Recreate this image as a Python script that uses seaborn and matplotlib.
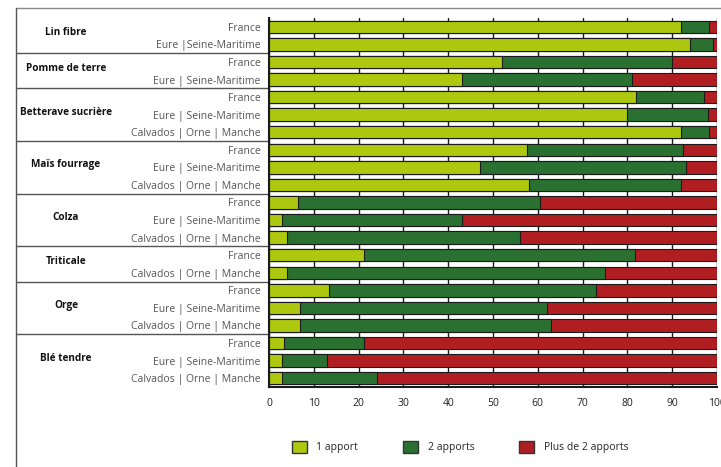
import matplotlib
matplotlib.use("Agg")
import matplotlib.pyplot as plt
from matplotlib.lines import Line2D
from matplotlib.patches import Patch
import matplotlib.transforms as mtransforms
import pandas as pd
import seaborn as sns

# cultures (groupes) et zones, de haut en bas
cultures = ["Lin fibre", "Pomme de terre", "Betterave sucrière", "Maïs fourrage",
            "Colza", "Triticale", "Orge", "Blé tendre"]
zones = [
    ["France", "Eure |Seine-Maritime"],
    ["France", "Eure | Seine-Maritime"],
    ["France", "Eure | Seine-Maritime", "Calvados | Orne | Manche"],
    ["France", "Eure | Seine-Maritime", "Calvados | Orne | Manche"],
    ["France", "Eure | Seine-Maritime", "Calvados | Orne | Manche"],
    ["France", "Calvados | Orne | Manche"],
    ["France", "Eure | Seine-Maritime", "Calvados | Orne | Manche"],
    ["France", "Eure | Seine-Maritime", "Calvados | Orne | Manche"],
]

# part des surfaces (%) selon le nombre d'apports, une valeur par ligne
apport_1 = [92, 94, 52, 43, 82, 80, 92, 57.7, 47, 58,
            6.5, 3, 4, 21.3, 4, 13.5, 7, 7, 3.4, 3, 3]
apport_2 = [6.3, 5, 38, 38, 15, 18, 6.2, 34.7, 46, 34,
            54, 40, 52, 60.5, 71, 59.5, 55, 56, 17.7, 10, 21]
apport_plus = [1.7, 1, 10, 19, 3, 2, 1.8, 7.6, 7, 8,
               39.5, 57, 44, 18.2, 25, 27, 38, 37, 78.9, 87, 76]

c1, c2, c3 = "#adc80e", "#2a7030", "#b01e22"

rows, labels = [], []
for cult, zs in zip(cultures, zones):
    for z in zs:
        rows.append(f"{cult}|{z}")
        labels.append(z)

df = pd.DataFrame({"row": rows, "a1": apport_1, "a2": apport_2, "a3": apport_plus})
df["cum2"] = df["a1"] + df["a2"]
df["cum3"] = df["cum2"] + df["a3"]

sns.set_style("white")
plt.rcParams["font.family"] = ["Open Sans", "DejaVu Sans"]

fig = plt.figure(figsize=(7.21, 4.67), dpi=100)
ax = fig.add_axes([269 / 721, 1 - 387 / 467, 448 / 721, 369 / 467])

# barres empilées : total, puis cumul 1+2, puis 1 apport par-dessus
bar_kw = dict(orient="h", width=0.7, saturation=1, edgecolor="#1a1a1a",
              linewidth=0.8, ax=ax)
sns.barplot(data=df, x="cum3", y="row", color=c3, **bar_kw)
sns.barplot(data=df, x="cum2", y="row", color=c2, **bar_kw)
sns.barplot(data=df, x="a1", y="row", color=c1, **bar_kw)

ax.set_xlim(0, 100)
ax.set_ylim(len(rows) - 0.5, -0.5)
ax.set_xticks(range(0, 101, 10))
ax.set_xlabel("")
ax.set_ylabel("")
ax.set_yticks(range(len(rows)))
ax.set_yticklabels(labels, color="#555555", fontsize=7.5)
ax.tick_params(axis="x", length=0, labelsize=7.5, pad=8, colors="#222222")
ax.tick_params(axis="y", length=0, pad=6)

# lignes verticales noires visibles entre les barres
ax.set_axisbelow(True)
ax.grid(axis="x", color="#1a1a1a", linewidth=1)
for s in ["top", "right"]:
    ax.spines[s].set_visible(False)
for s in ["left", "bottom"]:
    ax.spines[s].set_color("#1a1a1a")
    ax.spines[s].set_linewidth(1.5)

# noms de cultures et séparateurs de groupes
trans = mtransforms.blended_transform_factory(ax.transAxes, ax.transData)
x_left = (16 - 269) / 448
x_name = (66 - 269) / 448
idx = 0
for g, cult in enumerate(cultures):
    n = len(zones[g])
    mid = idx + (n - 1) / 2 - 0.15
    ax.text(x_name, mid, cult, transform=trans, ha="center", va="center",
            fontsize=7.2, fontweight="bold", color="#111111")
    idx += n
    if g < len(cultures) - 1:
        ax.add_line(Line2D([x_left, 0], [idx - 0.5, idx - 0.5], transform=trans,
                           color="#555555", linewidth=1, clip_on=False))

# cadre de la figure
fig.add_artist(Line2D([16 / 721, 1], [1 - 8 / 467, 1 - 8 / 467],
                      transform=fig.transFigure, color="#888888", linewidth=1))
fig.add_artist(Line2D([16 / 721, 16 / 721], [0, 1 - 8 / 467],
                      transform=fig.transFigure, color="#555555", linewidth=1))

handles = [Patch(facecolor=c1, edgecolor="#333333", label="1 apport"),
           Patch(facecolor=c2, edgecolor="#333333", label="2 apports"),
           Patch(facecolor=c3, edgecolor="#333333", label="Plus de 2 apports")]
fig.legend(handles=handles, loc="center left", bbox_to_anchor=(292 / 721, 1 - 447 / 467),
           ncol=3, frameon=False, fontsize=7.5, handlelength=1.45, handleheight=1.45,
           handletextpad=0.9, columnspacing=4.3, borderpad=0, borderaxespad=0)

fig.savefig("out.png", dpi=100)
